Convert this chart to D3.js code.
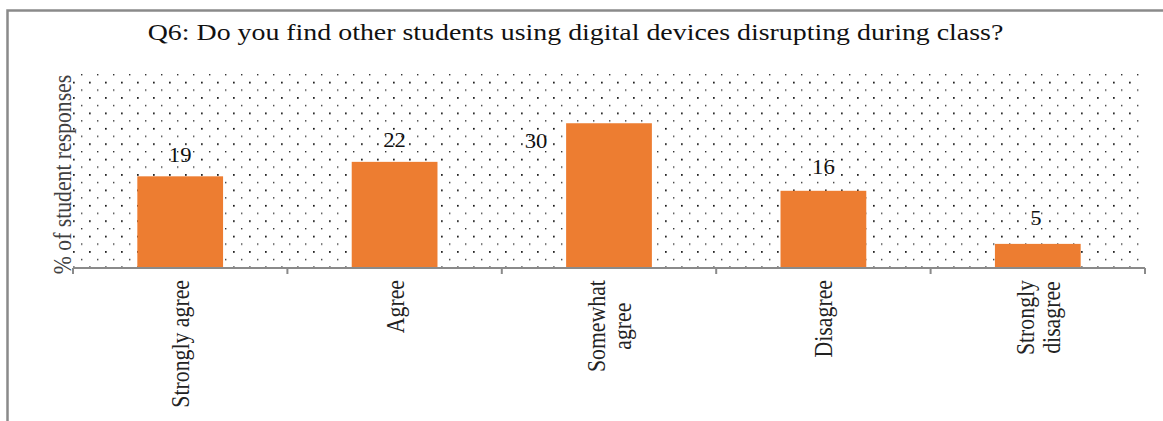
<!DOCTYPE html>
<html>
<head>
<meta charset="utf-8">
<script src="https://cdn.jsdelivr.net/npm/d3@7"></script>
<style>
  html, body { margin: 0; padding: 0; background: #fff; }
  svg { display: block; }
</style>
</head>
<body>
<svg id="chart" width="1163" height="421"></svg>
<script>
// Survey question Q6 — share of students per response
const categories = ["Strongly agree", "Agree", "Somewhat agree", "Disagree", "Strongly disagree"];
const values = [19, 22, 30, 16, 5];
// Line breaks used for the rotated category labels
const categoryLines = [["Strongly agree"], ["Agree"], ["Somewhat", "agree"], ["Disagree"], ["Strongly", "disagree"]];
const titleText = "Q6: Do you find other students using digital devices disrupting during class?";
const yLabel = "% of student responses";

const W = 1163, H = 421;
const plot = { left: 73, right: 1145, top: 75, bottom: 268 };
const serif = "'Liberation Serif', 'Times New Roman', serif";
const stretchX = 1.2; // text is drawn slightly wide

const svg = d3.select("#chart");

// Outer frame
svg.append("rect")
  .attr("x", 7.5).attr("y", 10.5)
  .attr("width", 1200).attr("height", 500)
  .attr("fill", "#fff")
  .attr("stroke", "#8a8a8a").attr("stroke-width", 2.5);

// Dotted fill for the plot area
const defs = svg.append("defs");
const pat = defs.append("pattern")
  .attr("id", "dots")
  .attr("patternUnits", "userSpaceOnUse")
  .attr("x", plot.left).attr("y", plot.top - 1)
  .attr("width", 16).attr("height", 15.4);
pat.append("rect").attr("x", 0).attr("y", 7.7).attr("width", 1.7).attr("height", 1.7).attr("fill", "#111");
pat.append("rect").attr("x", 8).attr("y", 0).attr("width", 1.4).attr("height", 1.4).attr("fill", "#333");

svg.append("rect")
  .attr("x", plot.left).attr("y", plot.top - 2)
  .attr("width", plot.right - plot.left)
  .attr("height", plot.bottom - plot.top + 2)
  .attr("fill", "url(#dots)");

const x = d3.scaleBand()
  .domain(categories)
  .range([plot.left, plot.right])
  .paddingInner(0.6)
  .paddingOuter(0.3);

const y = d3.scaleLinear()
  .domain([0, 40])
  .range([plot.bottom, plot.top]);

// Bars
svg.append("g").selectAll("rect")
  .data(categories)
  .join("rect")
  .attr("x", d => x(d))
  .attr("y", (d, i) => y(values[i]))
  .attr("width", x.bandwidth())
  .attr("height", (d, i) => y(0) - y(values[i]))
  .attr("fill", "#ed7d31");

// X axis line with category boundary ticks
const step = (plot.right - plot.left) / categories.length;
const axis = svg.append("g").attr("stroke", "#8a8a8a").attr("stroke-width", 2);
axis.append("line")
  .attr("x1", plot.left).attr("x2", plot.right)
  .attr("y1", plot.bottom).attr("y2", plot.bottom);
axis.selectAll("line.tick")
  .data(d3.range(categories.length + 1))
  .join("line")
  .attr("class", "tick")
  .attr("x1", i => plot.left + i * step).attr("x2", i => plot.left + i * step)
  .attr("y1", plot.bottom).attr("y2", plot.bottom + 6);

// Value labels
const labelOffsets = [{ dx: 0, dy: -14 }, { dx: 0, dy: -15 }, { dx: -73, dy: 25 }, { dx: 0, dy: -17 }, { dx: -2, dy: -19 }];
svg.append("g").selectAll("text")
  .data(categories)
  .join("text")
  .attr("transform", (d, i) =>
    `translate(${x(d) + x.bandwidth() / 2 + labelOffsets[i].dx},${y(values[i]) + labelOffsets[i].dy}) scale(1.08,1)`)
  .attr("text-anchor", "middle")
  .attr("font-family", serif)
  .attr("font-size", 21)
  .attr("fill", "#111")
  .text((d, i) => values[i]);

// Rotated category labels
const catG = svg.append("g");
categories.forEach((c, i) => {
  const lines = categoryLines[i];
  const cx = x(c) + x.bandwidth() / 2;
  const g = catG.append("g")
    .attr("transform", `translate(${cx},${plot.bottom + 12}) scale(${stretchX},1) rotate(-90)`);
  const lh = 21.5;
  const t = g.append("text")
    .attr("font-family", serif)
    .attr("font-size", 21.8)
    .attr("fill", "#222");
  lines.forEach((ln, k) => {
    t.append("tspan")
      .attr("x", 0)
      .attr("y", (k - (lines.length - 1) / 2) * lh + 7.5)
      .text(ln);
  });
  // right-align the block at the axis, centring lines within it
  const bb = t.node().getBBox();
  t.attr("text-anchor", "middle").attr("transform", `translate(${-bb.width / 2},0)`);
});

// Y axis title
svg.append("text")
  .attr("transform", `translate(71,${(plot.top + plot.bottom) / 2 + 3}) scale(${stretchX},1) rotate(-90)`)
  .attr("text-anchor", "middle")
  .attr("font-family", serif)
  .attr("font-size", 21.7)
  .attr("fill", "#404040")
  .text(yLabel);

// Chart title
svg.append("text")
  .attr("transform", `translate(575.5,40) scale(1.213,1)`)
  .attr("text-anchor", "middle")
  .attr("font-family", serif)
  .attr("font-size", 23)
  .attr("fill", "#111")
  .text(titleText);
</script>
</body>
</html>
